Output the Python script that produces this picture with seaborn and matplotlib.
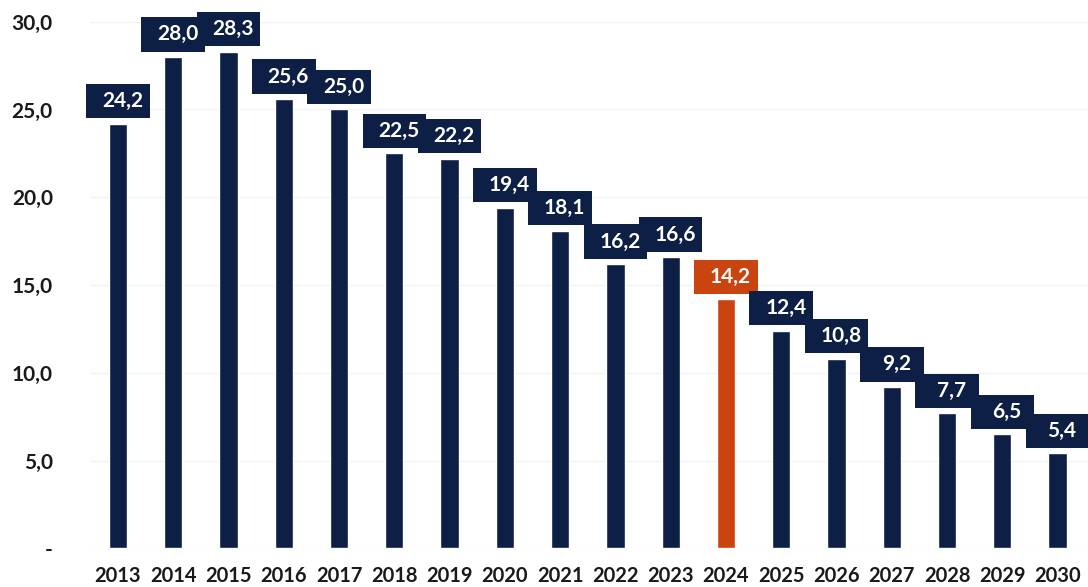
import matplotlib
matplotlib.use("Agg")
import matplotlib.pyplot as plt
import seaborn as sns
import pandas as pd
from matplotlib.patches import Rectangle

years = ["2013", "2014", "2015", "2016", "2017", "2018", "2019", "2020", "2021",
         "2022", "2023", "2024", "2025", "2026", "2027", "2028", "2029", "2030"]
values = [24.2, 28.0, 28.3, 25.6, 25.0, 22.5, 22.2, 19.4, 18.1,
          16.2, 16.6, 14.2, 12.4, 10.8, 9.2, 7.7, 6.5, 5.4]
highlight_year = "2024"
y_ticks = [0, 5, 10, 15, 20, 25, 30]
y_tick_labels = ["-", "5,0", "10,0", "15,0", "20,0", "25,0", "30,0"]

NAVY = "#0d1f45"
ORANGE = "#c9440f"

df = pd.DataFrame({"year": years, "value": values})
df["kind"] = ["hl" if y == highlight_year else "base" for y in years]

sns.set_theme(style="white")
plt.rcParams["font.family"] = ["Lato", "DejaVu Sans"]

fig = plt.figure(figsize=(10.88, 5.87), dpi=100)
ax = fig.add_axes([0.083, 0.066, 0.917, 0.897])

sns.barplot(data=df, x="year", y="value", hue="kind",
            palette={"base": NAVY, "hl": ORANGE}, width=0.33,
            legend=False, ax=ax, saturation=1)

ax.set_ylim(0, 30)
ax.set_xlim(-0.5, len(years) - 0.45)
ax.set_yticks(y_ticks)
ax.set_yticklabels(y_tick_labels, fontsize=15, fontweight="bold", color="#1a1a1a")
ax.tick_params(axis="y", length=0, pad=27)
ax.tick_params(axis="x", length=0, pad=13)
for lbl in ax.get_xticklabels():
    lbl.set_fontsize(14.5)
    lbl.set_fontweight("bold")
    lbl.set_color("#1a1a1a")
ax.set_xlabel("")
ax.set_ylabel("")
for s in ax.spines.values():
    s.set_visible(False)
ax.yaxis.grid(True, color="#f3f3f3", linewidth=1)
ax.set_axisbelow(True)

bars = sorted([p for p in ax.patches if p.get_height() > 0], key=lambda p: p.get_x())
bw, bh, gap = 1.15, 1.95, 0.3
for p, yr, v in zip(bars, years, values):
    cx = p.get_x() + p.get_width() / 2
    col = ORANGE if yr == highlight_year else NAVY
    top = p.get_height()
    ax.add_patch(Rectangle((cx - bw / 2, top + gap), bw, bh, facecolor=col,
                           edgecolor="none", clip_on=False, zorder=3))
    ax.text(cx + 0.08, top + gap + bh / 2, f"{v:.1f}".replace(".", ","),
            ha="center", va="center", color="white", fontsize=15,
            fontweight="bold", zorder=4, clip_on=False)

fig.savefig("out.png", dpi=100)
